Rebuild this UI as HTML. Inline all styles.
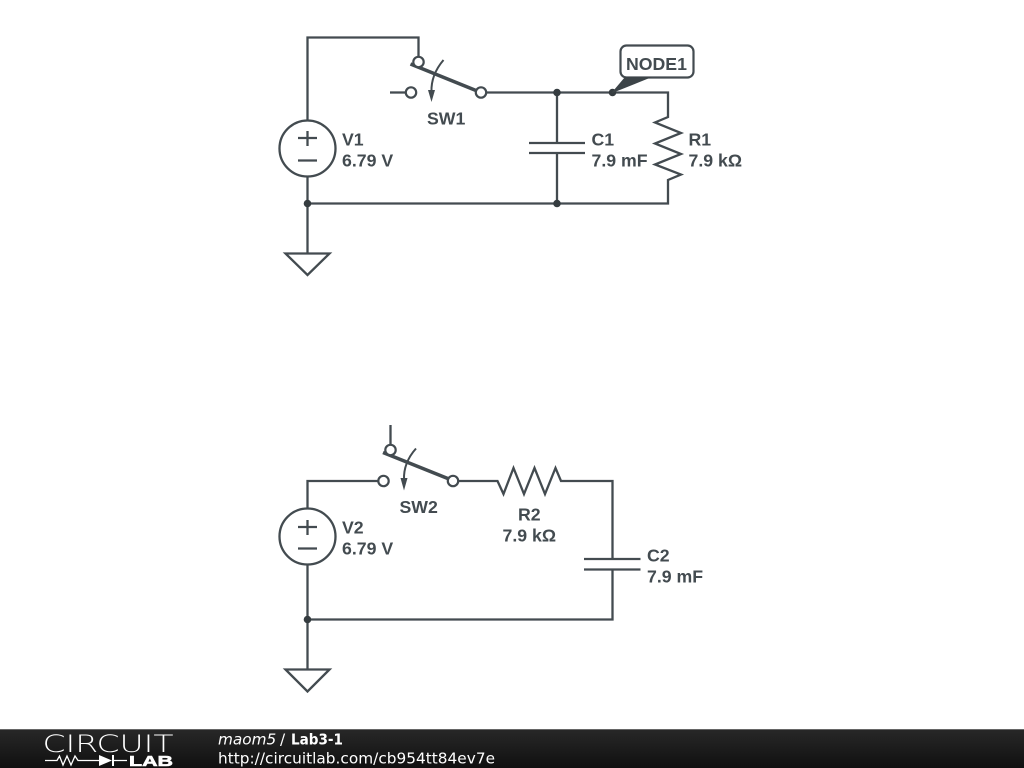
<!DOCTYPE html>
<html>
<head>
<meta charset="utf-8">
<style>
html,body{margin:0;padding:0;background:#fff;}
body{width:1024px;height:768px;overflow:hidden;position:relative;}
svg{position:absolute;left:0;top:0;}
.w{fill:none;stroke:#434b50;stroke-width:2.3;stroke-linejoin:miter;}
.t{fill:#fff;stroke:#434b50;stroke-width:2.2;}
.d{fill:#353c40;stroke:none;}
.l{font:bold 17.7px "Liberation Sans",sans-serif;fill:#434b50;}
.f{font:15.3px "DejaVu Sans",sans-serif;fill:#fff;}
</style>
</head>
<body>
<svg width="1024" height="768" viewBox="0 0 1024 768" xmlns="http://www.w3.org/2000/svg">
<defs>
<linearGradient id="g" x1="0" y1="0" x2="0" y2="1">
<stop offset="0" stop-color="#282828"/>
<stop offset="1" stop-color="#101010"/>
</linearGradient>
</defs>

<!-- Circuit 1 -->
<path class="w" d="M307.5 120V37.5H418.5V57"/>
<path class="w" d="M390 92.5H406"/>
<path class="w" d="M486 92.5H668V117L655 122.5L681 133L655 143.5L681 154L655 164.5L681 174.5L668 180V203.5H307.5"/>
<path class="w" d="M557 92.5V143M529 143H585M529 153H585M557 153V203.5"/>
<circle class="w" cx="307.5" cy="148.5" r="28"/>
<path class="w" d="M298 138H317M307.5 131V146M298 160.5H317"/>
<path class="w" d="M307.5 176.5V253"/>
<path class="w" d="M285.5 253.5H329.5L307.5 275Z"/>
<path d="M410.5 64L476 90.5" fill="none" stroke="#434b50" stroke-width="3.6"/>
<circle class="t" cx="418.5" cy="62" r="5.2"/>
<circle class="t" cx="411" cy="92.5" r="5.2"/>
<circle class="t" cx="481" cy="92.5" r="5.2"/>
<path class="w" d="M443.5 60C435 70 431 80 431.5 92" style="stroke-width:2"/>
<path d="M431.5 102L428 90H435Z" fill="#434b50"/>
<circle class="d" cx="557" cy="92.5" r="3.8"/>
<circle class="d" cx="612.5" cy="92.5" r="3.8"/>
<circle class="d" cx="307.5" cy="203.5" r="3.8"/>
<circle class="d" cx="557" cy="203.5" r="3.8"/>
<rect x="620.5" y="45.5" width="73" height="32" rx="6" ry="6" fill="#fff" stroke="#434b50" stroke-width="2.2"/>
<path d="M611 93.5L625 77H652Z" fill="#3c4448"/>
<text class="l" x="626" y="70">NODE1</text>
<text class="l" x="342" y="145.5">V1</text>
<text class="l" x="342" y="166.5">6.79 V</text>
<text class="l" x="427" y="124.5">SW1</text>
<text class="l" x="591.5" y="145.5">C1</text>
<text class="l" x="591.5" y="166.5">7.9 mF</text>
<text class="l" x="688.5" y="145.5">R1</text>
<text class="l" x="688.5" y="166.5">7.9 kΩ</text>

<!-- Circuit 2 -->
<path class="w" d="M307.5 508V481H378"/>
<path class="w" d="M390.5 425V445"/>
<path class="w" d="M458 481H497.5L503.5 494L513.5 468L524 494L534.5 468L545 494L555.5 468L561 481H612.5V559M584 559H640.5M584 569.5H640.5M612.5 569.5V619.5H307.5"/>
<circle class="w" cx="307.5" cy="536.5" r="28"/>
<path class="w" d="M298 527H317M307.5 520V535M298 548.5H317"/>
<path class="w" d="M307.5 564.5V669"/>
<path class="w" d="M285.5 669.5H329.5L307.5 691.5Z"/>
<path d="M383 452.5L449 479" fill="none" stroke="#434b50" stroke-width="3.6"/>
<circle class="t" cx="390.5" cy="450" r="5.2"/>
<circle class="t" cx="383.5" cy="481" r="5.2"/>
<circle class="t" cx="453" cy="481" r="5.2"/>
<path class="w" d="M416 448.5C407.5 458 403.5 468 404 480" style="stroke-width:2"/>
<path d="M404 490.5L400.5 478H407.5Z" fill="#434b50"/>
<circle class="d" cx="307.5" cy="619.5" r="3.8"/>
<text class="l" x="399.5" y="513">SW2</text>
<text class="l" x="342" y="533.5">V2</text>
<text class="l" x="342" y="554.5">6.79 V</text>
<text class="l" x="518" y="520.5">R2</text>
<text class="l" x="502.5" y="541.5">7.9 kΩ</text>
<text class="l" x="647" y="561.5">C2</text>
<text class="l" x="647" y="582.5">7.9 mF</text>

<!-- Footer -->
<rect x="0" y="729" width="1024" height="39" fill="url(#g)"/>
<rect x="0" y="729" width="1024" height="1" fill="#666"/>
<text x="42.5" y="752" font-family="DejaVu Sans,Liberation Sans,sans-serif" font-weight="200" font-size="24" fill="#fff" textLength="131" lengthAdjust="spacingAndGlyphs">CIRCUIT</text>
<path d="M45 760.5H57L59.5 756L63 765L67 756L71 765L75 756L78 760.5H99M112 760.5H127" fill="none" stroke="#fff" stroke-width="1.3"/>
<path d="M99 755V766L112 760.5Z" fill="#fff"/>
<path d="M113 755V766" stroke="#fff" stroke-width="2"/>
<text x="129" y="766" font-family="Liberation Sans,sans-serif" font-weight="bold" font-size="15" fill="#fff" stroke="#fff" stroke-width="0.6" textLength="44" lengthAdjust="spacingAndGlyphs">LAB</text>
<text class="f" x="218" y="744.5" style="font-style:italic">maom5</text>
<text class="f" x="280" y="744.5">/</text>
<text x="291" y="744.5" font-family="DejaVu Sans,sans-serif" font-weight="bold" font-size="15" fill="#fff" textLength="52" lengthAdjust="spacingAndGlyphs">Lab3-1</text>
<text class="f" x="218" y="763.5" textLength="277">http://circuitlab.com/cb954tt84ev7e</text>
</svg>
</body>
</html>
